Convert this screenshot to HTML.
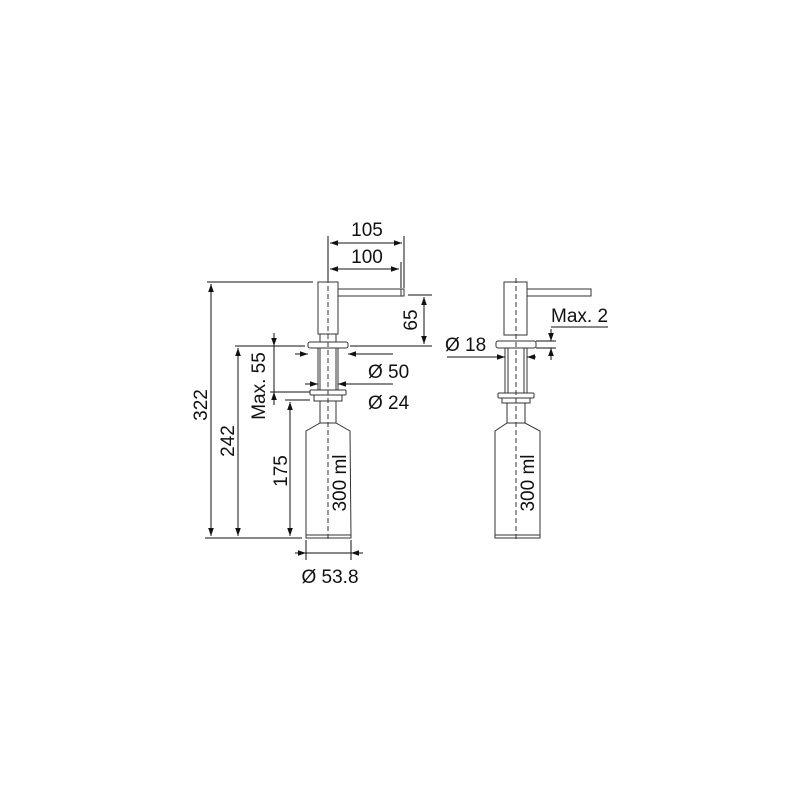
<!DOCTYPE html>
<html><head><style>
html,body{margin:0;padding:0;background:#fff;}
svg{display:block;}
text{font-family:"Liberation Sans",sans-serif;font-size:19px;fill:#111;}
</style></head><body>
<svg width="800" height="800" viewBox="0 0 800 800">
<defs>
<marker id="a" viewBox="0 0 10 10" refX="10" refY="5" markerWidth="8" markerHeight="8" orient="auto-start-reverse" markerUnits="userSpaceOnUse">
<path d="M0,1.5 L10,5 L0,8.5 z" fill="#111"/></marker>
</defs>
<g stroke="#333" stroke-width="1" fill="none">
<rect x="318" y="282" width="20" height="52"/>
<rect x="338" y="289" width="63" height="7"/>
<rect x="401" y="289" width="3" height="7"/>
<rect x="320" y="334" width="16" height="8"/>
<rect x="308" y="342" width="40" height="6" rx="2"/>
<rect x="318" y="348" width="20" height="42"/>
<line x1="320" y1="348" x2="320" y2="390"/><line x1="336" y1="348" x2="336" y2="390"/>
<rect x="310" y="390" width="36" height="5" rx="1"/>
<rect x="314" y="395" width="28" height="6"/>
<rect x="320" y="401" width="16" height="22"/>
<path d="M320,423 L336,423 L350,431 L351,538 L306,538 L306,431 Z"/>
<line x1="306" y1="535" x2="351" y2="535"/>
<line x1="328" y1="278" x2="328" y2="542" stroke-dasharray="5,3"/>
<rect x="504" y="282" width="23" height="53"/>
<rect x="527" y="289" width="64" height="7"/>
<rect x="496" y="341" width="40" height="7" rx="2"/>
<rect x="505" y="348" width="22" height="45"/>
<line x1="508" y1="348" x2="508" y2="393"/><line x1="524" y1="348" x2="524" y2="393"/>
<rect x="498" y="393" width="36" height="5" rx="1"/>
<rect x="502" y="398" width="28" height="5"/>
<rect x="507" y="403" width="18" height="20"/>
<path d="M507,423 L525,423 L540,431 L540,538 L495,538 L495,431 Z"/>
<line x1="495" y1="535" x2="540" y2="535"/>
<line x1="516" y1="278" x2="516" y2="542" stroke-dasharray="5,3"/>
</g>
<g stroke="#111" stroke-width="1" fill="none">
<line x1="207" y1="282" x2="313" y2="282"/>
<line x1="205" y1="538" x2="302" y2="538"/>
<line x1="235" y1="346" x2="305" y2="346"/>
<line x1="270" y1="392" x2="310" y2="392"/>
<line x1="285" y1="400" x2="310" y2="400"/>
<line x1="328" y1="236" x2="328" y2="280"/>
<line x1="404" y1="236" x2="404" y2="288"/>
<line x1="401" y1="262" x2="401" y2="288"/>
<line x1="408" y1="295" x2="432" y2="295"/>
<line x1="350" y1="346" x2="432" y2="346"/>
<line x1="306" y1="540" x2="306" y2="560"/>
<line x1="351" y1="540" x2="351" y2="560"/>
<line x1="211" y1="284" x2="211" y2="536" marker-start="url(#a)" marker-end="url(#a)"/>
<line x1="238" y1="348" x2="238" y2="536" marker-start="url(#a)" marker-end="url(#a)"/>
<line x1="290" y1="402" x2="290" y2="536" marker-start="url(#a)" marker-end="url(#a)"/>
<line x1="274" y1="333" x2="274" y2="346" marker-end="url(#a)"/>
<line x1="274" y1="346" x2="274" y2="392"/>
<line x1="274" y1="405" x2="274" y2="392" marker-end="url(#a)"/>
<line x1="330" y1="243" x2="402" y2="243" marker-start="url(#a)" marker-end="url(#a)"/>
<line x1="330" y1="269" x2="399" y2="269" marker-start="url(#a)" marker-end="url(#a)"/>
<line x1="424" y1="297" x2="424" y2="344" marker-start="url(#a)" marker-end="url(#a)"/>
<line x1="295" y1="354" x2="308" y2="354" marker-end="url(#a)"/>
<line x1="393" y1="354" x2="348" y2="354" marker-end="url(#a)"/>
<line x1="305" y1="384" x2="318" y2="384" marker-end="url(#a)"/>
<line x1="393" y1="384" x2="338" y2="384" marker-end="url(#a)"/>
<line x1="295" y1="553" x2="306" y2="553" marker-end="url(#a)"/>
<line x1="363" y1="553" x2="351" y2="553" marker-end="url(#a)"/>
<line x1="306" y1="553" x2="351" y2="553"/>
<line x1="447" y1="357" x2="505" y2="357" marker-end="url(#a)"/>
<line x1="536" y1="357" x2="527" y2="357" marker-end="url(#a)"/>
<line x1="536" y1="341" x2="556" y2="341"/>
<line x1="536" y1="348" x2="556" y2="348"/>
<line x1="551" y1="329" x2="551" y2="341" marker-end="url(#a)"/>
<line x1="551" y1="360" x2="551" y2="348" marker-end="url(#a)"/>
<line x1="551" y1="327" x2="608" y2="327"/>
</g>
<text x="367" y="236" text-anchor="middle">105</text>
<text x="367" y="263" text-anchor="middle">100</text>
<text transform="translate(417,320) rotate(-90)" text-anchor="middle">65</text>
<text transform="translate(207,405) rotate(-90)" text-anchor="middle">322</text>
<text transform="translate(234,441) rotate(-90)" text-anchor="middle">242</text>
<text transform="translate(265,386) rotate(-90)" text-anchor="middle">Max. 55</text>
<text transform="translate(287,471) rotate(-90)" text-anchor="middle">175</text>
<text transform="translate(346,483) rotate(-90)" text-anchor="middle">300 ml</text>
<text transform="translate(534,483) rotate(-90)" text-anchor="middle">300 ml</text>
<text x="368" y="378">Ø 50</text>
<text x="368" y="409">Ø 24</text>
<text x="330" y="583" text-anchor="middle">Ø 53.8</text>
<text x="445" y="351">Ø 18</text>
<text x="551" y="322">Max. 2</text>
</svg>
</body></html>
